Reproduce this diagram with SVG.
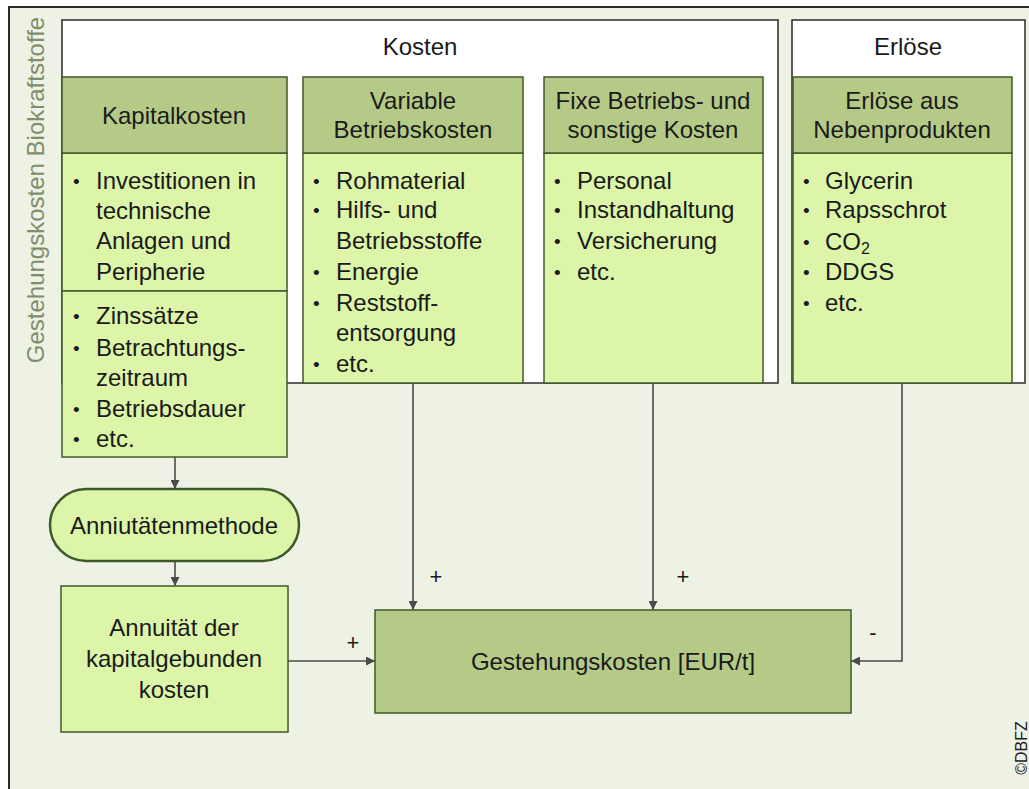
<svg xmlns="http://www.w3.org/2000/svg" width="1029" height="789" viewBox="0 0 1029 789">
<style>
text{font-family:"Liberation Sans",Arial,sans-serif;fill:#1a1a1a;font-size:24px}
.c{text-anchor:middle}
.hdr{fill:#b6ca88;stroke:#3f5a2a;stroke-width:1.5}
.body{fill:#dcf5a8;stroke:#3f5a2a;stroke-width:1.5}
.white{fill:#ffffff;stroke:#2a2a2a;stroke-width:1.5}
.b{font-size:19px}
.con{fill:none;stroke:#4a4a4a;stroke-width:1.6}
.sign{font-size:22px}
</style>
<defs>
<marker id="ah" viewBox="0 0 10 10" refX="10" refY="5" markerWidth="9" markerHeight="9" markerUnits="userSpaceOnUse" orient="auto">
<path d="M0,0 L10,5 L0,10 z" fill="#4a4a4a"/>
</marker>
</defs>
<rect x="0" y="0" width="1029" height="789" fill="#ffffff"/>
<rect x="9" y="7" width="1030" height="800" fill="#eef2e4" stroke="#2a2a2a" stroke-width="2"/>
<text transform="translate(44,190) rotate(-90)" class="c" style="fill:#7f8f6c">Gestehungskosten Biokraftstoffe</text>

<g id="kosten">
<rect class="white" x="62" y="20" width="716" height="363"/>
<text class="c" x="420" y="55">Kosten</text>
</g>
<g id="erloese">
<rect class="white" x="792" y="20" width="233" height="363"/>
<text class="c" x="908" y="55">Erlöse</text>
</g>

<g id="kapitalkosten">
<rect class="body" x="62" y="153" width="225" height="138"/>
<rect class="body" x="62" y="291" width="225" height="166"/>
<rect class="hdr" x="62" y="77" width="225" height="76"/>
<text class="c" x="174" y="124">Kapitalkosten</text>
<text class="b" x="73" y="188">•</text><text x="96" y="189">Investitionen in</text>
<text x="96" y="219">technische</text>
<text x="96" y="249">Anlagen und</text>
<text x="96" y="280">Peripherie</text>
<text class="b" x="73" y="323">•</text><text x="96" y="324">Zinssätze</text>
<text class="b" x="73" y="355">•</text><text x="96" y="356">Betrachtungs-</text>
<text x="96" y="386">zeitraum</text>
<text class="b" x="73" y="416">•</text><text x="96" y="417">Betriebsdauer</text>
<text class="b" x="73" y="446">•</text><text x="96" y="447">etc.</text>
</g>

<g id="variable">
<rect class="body" x="303" y="153" width="220" height="230"/>
<rect class="hdr" x="303" y="77" width="220" height="76"/>
<text class="c" x="413" y="109">Variable</text>
<text class="c" x="413" y="138">Betriebskosten</text>
<text class="b" x="313" y="188">•</text><text x="336" y="189">Rohmaterial</text>
<text class="b" x="313" y="217">•</text><text x="336" y="218">Hilfs- und</text>
<text x="336" y="249">Betriebsstoffe</text>
<text class="b" x="313" y="279">•</text><text x="336" y="280">Energie</text>
<text class="b" x="313" y="310">•</text><text x="336" y="311">Reststoff-</text>
<text x="336" y="341">entsorgung</text>
<text class="b" x="313" y="371">•</text><text x="336" y="372">etc.</text>
</g>

<g id="fixe">
<rect class="body" x="544" y="153" width="219" height="230"/>
<rect class="hdr" x="544" y="77" width="219" height="76"/>
<text class="c" x="653" y="109">Fixe Betriebs- und</text>
<text class="c" x="653" y="138">sonstige Kosten</text>
<text class="b" x="554" y="188">•</text><text x="577" y="189">Personal</text>
<text class="b" x="554" y="217">•</text><text x="577" y="218">Instandhaltung</text>
<text class="b" x="554" y="248">•</text><text x="577" y="249">Versicherung</text>
<text class="b" x="554" y="279">•</text><text x="577" y="280">etc.</text>
</g>

<g id="nebenprodukte">
<rect class="body" x="793" y="153" width="219" height="230"/>
<rect class="hdr" x="793" y="77" width="219" height="76"/>
<text class="c" x="902" y="109">Erlöse aus</text>
<text class="c" x="902" y="138">Nebenprodukten</text>
<text class="b" x="803" y="188">•</text><text x="825" y="189">Glycerin</text>
<text class="b" x="803" y="217">•</text><text x="825" y="218">Rapsschrot</text>
<text class="b" x="803" y="249">•</text><text x="825" y="250">CO<tspan font-size="16" dy="4">2</tspan></text>
<text class="b" x="803" y="279">•</text><text x="825" y="280">DDGS</text>
<text class="b" x="803" y="310">•</text><text x="825" y="311">etc.</text>
</g>

<g id="anniutaetenmethode">
<rect x="50" y="489" width="249" height="72" rx="36" ry="36" fill="#dcf5a8" stroke="#3f5a2a" stroke-width="2.5"/>
<text class="c" x="174" y="534">Anniutätenmethode</text>
</g>

<g id="annuitaet">
<rect class="body" x="61" y="586" width="227" height="146"/>
<text class="c" x="174" y="636">Annuität der</text>
<text class="c" x="174" y="667">kapitalgebunden</text>
<text class="c" x="174" y="698">kosten</text>
</g>

<g id="gestehungskosten">
<rect class="hdr" x="375" y="610" width="476" height="103"/>
<text class="c" x="613" y="670">Gestehungskosten [EUR/t]</text>
</g>

<g id="connectors">
<path class="con" d="M175,457 V489" marker-end="url(#ah)"/>
<path class="con" d="M175,561 V586" marker-end="url(#ah)"/>
<path class="con" d="M288,661 H375" marker-end="url(#ah)"/>
<path class="con" d="M413,383 V610" marker-end="url(#ah)"/>
<path class="con" d="M653,383 V610" marker-end="url(#ah)"/>
<path class="con" d="M902,383 V661 H851" marker-end="url(#ah)"/>
<text class="sign c" x="436" y="584">+</text>
<text class="sign c" x="683" y="584">+</text>
<text class="sign c" x="353" y="650">+</text>
<text class="sign c" x="873" y="640">-</text>
</g>
<text transform="translate(1027,748) rotate(-90)" class="c" style="font-size:16px">©DBFZ</text>
</svg>
